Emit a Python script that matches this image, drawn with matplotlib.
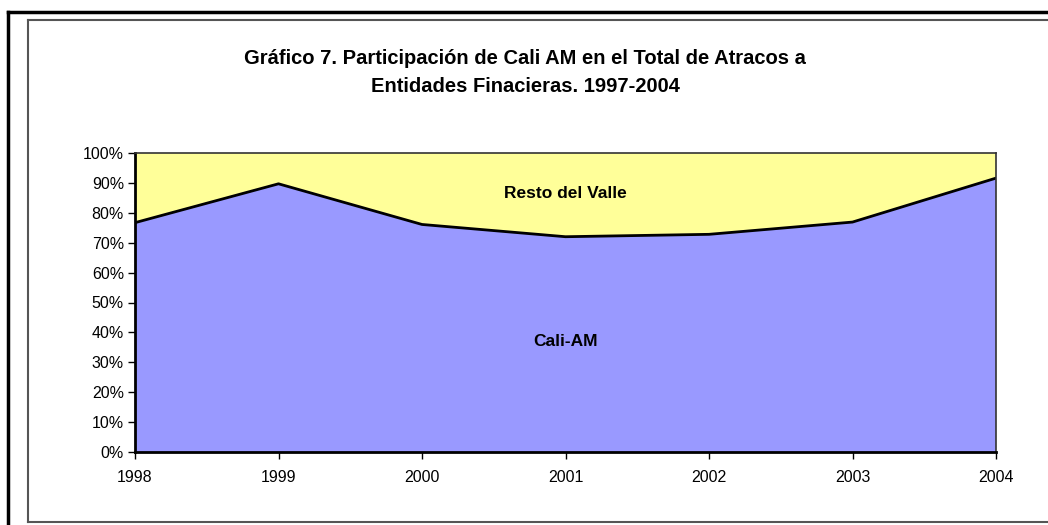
import matplotlib
matplotlib.use("Agg")
import matplotlib.pyplot as plt
from matplotlib.lines import Line2D
from matplotlib.ticker import PercentFormatter

plt.rcParams['font.family'] = ['Liberation Sans', 'DejaVu Sans']

years = [1998, 1999, 2000, 2001, 2002, 2003, 2004]
cali_am = [76.7, 89.7, 76.1, 72.0, 72.8, 76.9, 91.6]
resto = [100 - v for v in cali_am]
title = "Gráfico 7. Participación de Cali AM en el Total de Atracos a\nEntidades Finacieras. 1997-2004"

fig = plt.figure(figsize=(10.48, 5.25), dpi=100)
ax = fig.add_axes([135/1048, 1 - 452/525, (996-135)/1048, (452-153)/525])

ax.stackplot(years, cali_am, resto, colors=['#9999FF', '#FFFF99'], linewidth=0)
ax.plot(years, cali_am, color='black', linewidth=2)

ax.set_xlim(years[0], years[-1])
ax.set_ylim(0, 100)
ax.set_yticks(range(0, 101, 10))
ax.yaxis.set_major_formatter(PercentFormatter(decimals=0))
ax.set_xticks(years)
ax.set_xticklabels([str(y) for y in years])
ax.tick_params(axis='both', direction='out', length=5, width=1, labelsize=11.5, color='black')
ax.tick_params(axis='x', pad=8)
ax.tick_params(axis='y', pad=3)

for s in ['left', 'bottom']:
    ax.spines[s].set_linewidth(2)
    ax.spines[s].set_color('black')
for s in ['top', 'right']:
    ax.spines[s].set_linewidth(1.2)
    ax.spines[s].set_color('#333333')

ax.text(2001, 86.6, "Resto del Valle", ha='center', va='center', fontsize=12.5, fontweight='bold')
ax.text(2001, 36.8, "Cali-AM", ha='center', va='center', fontsize=12.5, fontweight='bold')

fig.text(525/1048, 1 - 73/525, title, ha='center', va='center', fontsize=14.5,
         fontweight='bold', linespacing=1.6)

# outer frames
W, H = 1048, 525
def fx(x): return x / W
def fy(y): return 1 - y / H
fig.add_artist(Line2D([fx(8), fx(1048)], [fy(12), fy(12)], color='black', linewidth=2.5, transform=fig.transFigure))
fig.add_artist(Line2D([fx(8), fx(8)], [fy(12), fy(525)], color='black', linewidth=2.5, transform=fig.transFigure))
fig.add_artist(Line2D([fx(28), fx(1048)], [fy(20), fy(20)], color='#555555', linewidth=1.5, transform=fig.transFigure))
fig.add_artist(Line2D([fx(28), fx(28)], [fy(20), fy(522)], color='#555555', linewidth=1.5, transform=fig.transFigure))
fig.add_artist(Line2D([fx(28), fx(1048)], [fy(522), fy(522)], color='#555555', linewidth=1.5, transform=fig.transFigure))

fig.savefig("out.png", dpi=100)
